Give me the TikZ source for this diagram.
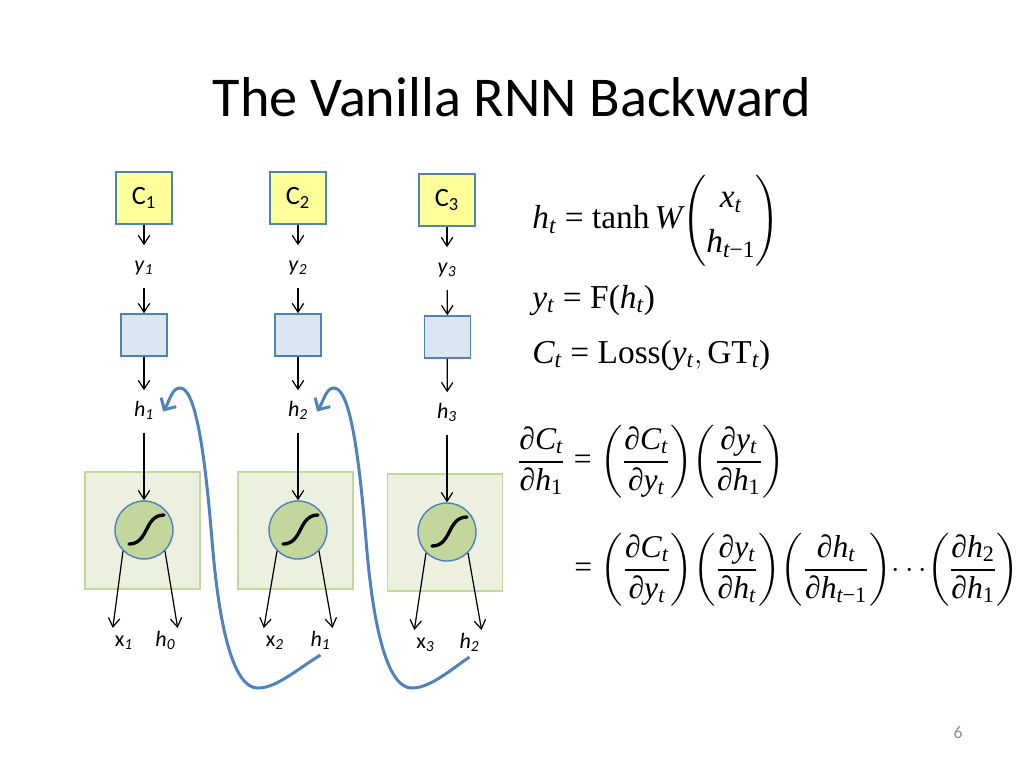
\documentclass[tikz,border=0pt]{standalone}
\usepackage{amsmath}
\usepackage[no-math]{fontspec}
\setmainfont{Carlito}
\newfontfamily\tmsfont[NFSSFamily=tmsx]{Liberation Serif}
\DeclareSymbolFont{operators}{TU}{tmsx}{m}{n}
\DeclareSymbolFont{tmsletters}{TU}{tmsx}{m}{it}
\DeclareMathSymbol{C}{\mathalpha}{tmsletters}{`C}
\DeclareMathSymbol{W}{\mathalpha}{tmsletters}{`W}
\DeclareMathSymbol{h}{\mathalpha}{tmsletters}{`h}
\DeclareMathSymbol{t}{\mathalpha}{tmsletters}{`t}
\DeclareMathSymbol{x}{\mathalpha}{tmsletters}{`x}
\DeclareMathSymbol{y}{\mathalpha}{tmsletters}{`y}
\AtBeginDocument{\Umathchardef\partial="0 \symoperators "2202 \Umathcode`-="2 \symoperators "2212 }
\newcommand\pfrac[2]{{\left(\dfrac{#1}{#2}\right)}}
\usetikzlibrary{arrows.meta}

\definecolor{boxblue}{HTML}{4F81BD}
\definecolor{costyellow}{HTML}{FFFF99}
\definecolor{outblue}{HTML}{DCE6F2}
\definecolor{cellfill}{HTML}{EBF1DE}
\definecolor{cellline}{HTML}{C3D69B}
\definecolor{cellgreen}{HTML}{C3D69B}
\definecolor{pagegray}{HTML}{8C8C8C}

\tikzset{
  costbox/.style={draw=boxblue, fill=costyellow, line width=0.9pt, minimum width=1.12cm, minimum height=1.04cm, inner sep=0pt, font=\fontsize{15}{17}\selectfont},
  outbox/.style={draw=boxblue, fill=outblue, line width=0.9pt, minimum width=0.92cm, minimum height=0.84cm, inner sep=0pt},
  cellbox/.style={draw=cellline, fill=cellfill, line width=0.9pt, minimum width=2.3cm, minimum height=2.34cm, inner sep=0pt},
  tanhnode/.style={circle, draw=boxblue, fill=cellgreen, line width=0.8pt, minimum size=1.16cm, inner sep=0pt},
  var/.style={font=\fontsize{12.5}{14}\selectfont, text height=8.5pt, text depth=2.5pt, inner xsep=1pt, inner ysep=6.4pt},
  invar/.style={var, inner ysep=2pt, anchor=north},
  flow/.style={-{Straight Barb[length=5pt,width=6.5pt]}, line width=0.7pt},
  back/.style={-{Straight Barb[length=5pt,width=10pt]}, boxblue, line width=1.7pt},
  sig/.style={line width=1.9pt, line cap=round},
  eq/.style={font=\fontsize{19}{23}\selectfont, inner sep=0pt},
  deq/.style={eq, font=\fontsize{18}{22}\selectfont}
}

\begin{document}
\begin{tikzpicture}[x=0.02cm, y=-0.02cm]
  \useasboundingbox (0,0) rectangle (1024,768);

  \node[font=\fontsize{32}{38}\selectfont] (title) at (512,97) {The Vanilla RNN Backward};

  % cells
  \node[cellbox] (cell1) at (142.5,530.5) {};
  \node[cellbox] (cell2) at (295.5,530.5) {};
  \node[cellbox] (cell3) at (445,532.5) {};
  \node[tanhnode] (tanh1) at (144,530) {};
  \node[tanhnode] (tanh2) at (298,530) {};
  \node[tanhnode] (tanh3) at (447,532) {};
  \draw[sig] (tanh1) ++(-15,14) .. controls +(20,0) and +(-20,0) .. ++(35,-29);
  \draw[sig] (tanh2) ++(-15,14) .. controls +(20,0) and +(-20,0) .. ++(35,-29);
  \draw[sig] (tanh3) ++(-15,14) .. controls +(20,0) and +(-20,0) .. ++(35,-29);

  % costs and outputs
  \node[costbox] (cost1) at (144,198) {C\textsubscript{1}};
  \node[costbox] (cost2) at (298,198) {C\textsubscript{2}};
  \node[costbox] (cost3) at (447,200) {C\textsubscript{3}};
  \node[var] (y1) at (144,266.5) {\textit{y}\textsubscript{\textit{1}}};
  \node[var] (y2) at (298,266.5) {\textit{y}\textsubscript{\textit{2}}};
  \node[var] (y3) at (447,268.5) {\textit{y}\textsubscript{\textit{3}}};
  \node[outbox] (out1) at (144,335) {};
  \node[outbox] (out2) at (298,335) {};
  \node[outbox] (out3) at (447.5,337) {};
  \node[var] (h1) at (144,411.5) {\textit{h}\textsubscript{\textit{1}}};
  \node[var] (h2) at (298,411.5) {\textit{h}\textsubscript{\textit{2}}};
  \node[var] (h3) at (447,413.5) {\textit{h}\textsubscript{\textit{3}}};

  % inputs
  \node[invar] (in1) at (124,628) {x\textsubscript{\textit{1}}};
  \node[invar] (prev1) at (165.5,628) {\textit{h}\textsubscript{\textit{0}}};
  \node[invar] (in2) at (275,628) {x\textsubscript{\textit{2}}};
  \node[invar] (prev2) at (320.5,628) {\textit{h}\textsubscript{\textit{1}}};
  \node[invar] (in3) at (425.5,630) {x\textsubscript{\textit{3}}};
  \node[invar] (prev3) at (469.5,630) {\textit{h}\textsubscript{\textit{2}}};

  \draw[flow] (cost1) -- (y1);
  \draw[flow] (y1) -- (out1);
  \draw[flow] (out1) -- (h1);
  \draw[flow] (h1) -- (tanh1);
  \draw[flow] (tanh1.-135) -- (in1.north west);
  \draw[flow] (tanh1.-45) -- (prev1.north east);
  \draw[flow] (cost2) -- (y2);
  \draw[flow] (y2) -- (out2);
  \draw[flow] (out2) -- (h2);
  \draw[flow] (h2) -- (tanh2);
  \draw[flow] (tanh2.-135) -- (in2.north west);
  \draw[flow] (tanh2.-45) -- (prev2.north east);
  \draw[flow] (cost3) -- (y3);
  \draw[flow] (y3) -- (out3);
  \draw[flow] (out3) -- (h3);
  \draw[flow] (h3) -- (tanh3);
  \draw[flow] (tanh3.-135) -- (in3.north west);
  \draw[flow] (tanh3.-45) -- (prev3.north east);

  % gradient flowing back
  \draw[back] (prev2.south) .. controls (300,667) and (276,689) .. (257,688)
    .. controls (236,687) and (220,640) .. (212,540)
    .. controls (205,455) and (196,388) .. (180,388)
    .. controls (172,388) and (170,400) .. ([xshift=4pt]h1.east);
  \draw[back] (prev3.south) .. controls (454,667) and (430,689) .. (411,688)
    .. controls (390,687) and (374,640) .. (366,540)
    .. controls (359,455) and (350,388) .. (334,388)
    .. controls (326,388) and (324,400) .. ([xshift=4pt]h2.east);

  % equations
  \node[eq, anchor=west] (eqh) at (532,221) {$h_t = \tanh W {\left(\renewcommand\arraystretch{1.1}\begin{array}{@{}c@{}} x_t\\ h_{t-1}\end{array}\right)}$};
  \node[eq, anchor=base west] (eqy) at (532,308) {$y_t = \mathrm{F}(h_t)$};
  \node[eq, anchor=base west] (eqc) at (532,363) {$C_t = \mathrm{Loss}(y_t,\mathrm{GT}_t)$};
  \node[deq, anchor=west] (eqd1) at (517,462) {$\dfrac{\partial C_t}{\partial h_1} = \pfrac{\partial C_t}{\partial y_t}\pfrac{\partial y_t}{\partial h_1}$};
  \node[deq, anchor=west] (eqd2) at (574,570) {$= \pfrac{\partial C_t}{\partial y_t}\pfrac{\partial y_t}{\partial h_t}\pfrac{\partial h_t}{\partial h_{t-1}}{\cdots}\pfrac{\partial h_2}{\partial h_1}$};

  \node[font=\fontsize{10}{12}\selectfont, text=pagegray] (pgnum) at (958,733) {6};
\end{tikzpicture}
\end{document}
